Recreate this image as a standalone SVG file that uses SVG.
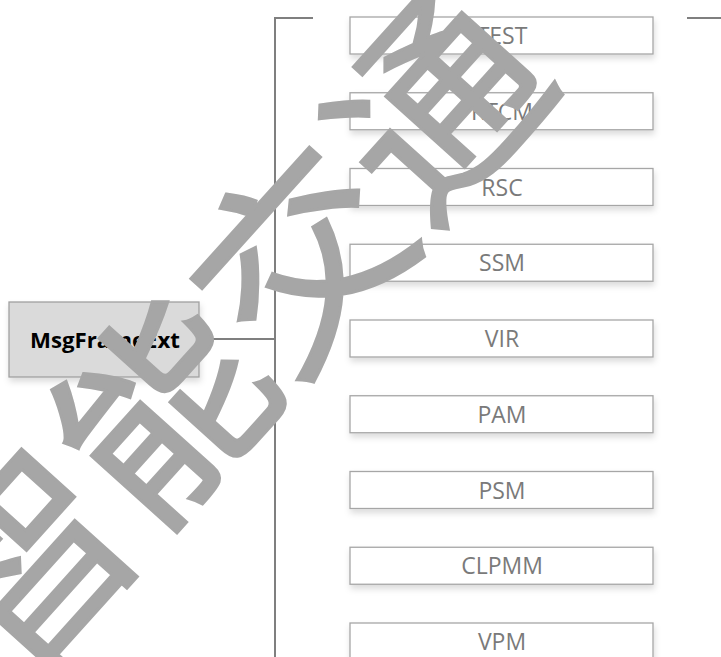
<svg xmlns="http://www.w3.org/2000/svg" width="721" height="657" viewBox="0 0 721 657">
<defs>
<filter id="sh" x="-10%" y="-30%" width="120%" height="180%">
<feDropShadow dx="1" dy="4" stdDeviation="3" flood-color="#000" flood-opacity="0.14"/>
</filter>
<style>
.child rect{fill:#fff;stroke:#a6a6a6;stroke-width:1.3;filter:url(#sh)}
.child text{font-family:"Open Sans","Noto Sans",sans-serif;font-size:23px;fill:#7a7a7a;text-anchor:middle}
.conn{stroke:#7f7f7f;stroke-width:2;fill:none}
</style>
</defs>
<rect width="721" height="657" fill="#fff"/>
<g id="connectors">
<path class="conn" d="M199,339 H275 M275,657 V18 H313 M687,18 H721"/>
</g>
<g id="root">
<rect x="9" y="302" width="190" height="75" fill="#dadada" stroke="#a0a0a0" stroke-width="1.3" filter="url(#sh)"/>
<text x="105" y="348" font-family="'Open Sans','Noto Sans',sans-serif" font-weight="bold" font-size="22" fill="#000" text-anchor="middle" textLength="150" lengthAdjust="spacingAndGlyphs">MsgFrameExt</text>
</g>
<g id="n-test" class="child"><rect x="350" y="17" width="303" height="37"/><text x="502" y="44">TEST</text></g>
<g id="n-rtcm" class="child"><rect x="350" y="92.75" width="303" height="37"/><text x="502" y="119.75">RTCM</text></g>
<g id="n-rsc" class="child"><rect x="350" y="168.5" width="303" height="37"/><text x="502" y="195.5">RSC</text></g>
<g id="n-ssm" class="child"><rect x="350" y="244.25" width="303" height="37"/><text x="502" y="271.25">SSM</text></g>
<g id="n-vir" class="child"><rect x="350" y="320" width="303" height="37"/><text x="502" y="347">VIR</text></g>
<g id="n-pam" class="child"><rect x="350" y="395.75" width="303" height="37"/><text x="502" y="422.75">PAM</text></g>
<g id="n-psm" class="child"><rect x="350" y="471.5" width="303" height="37"/><text x="502" y="498.5">PSM</text></g>
<g id="n-clpmm" class="child"><rect x="350" y="547.25" width="303" height="37"/><text x="502" y="574.25">CLPMM</text></g>
<g id="n-vpm" class="child"><rect x="350" y="623" width="303" height="37"/><text x="502" y="650">VPM</text></g>
<g id="watermark">
<text transform="translate(222,325) rotate(-48)" font-family="'Noto Sans CJK SC',sans-serif" font-size="205" fill="#a6a6a6" stroke="#a6a6a6" stroke-width="3" text-anchor="middle" dominant-baseline="central">智能交通</text>
</g>
</svg>
